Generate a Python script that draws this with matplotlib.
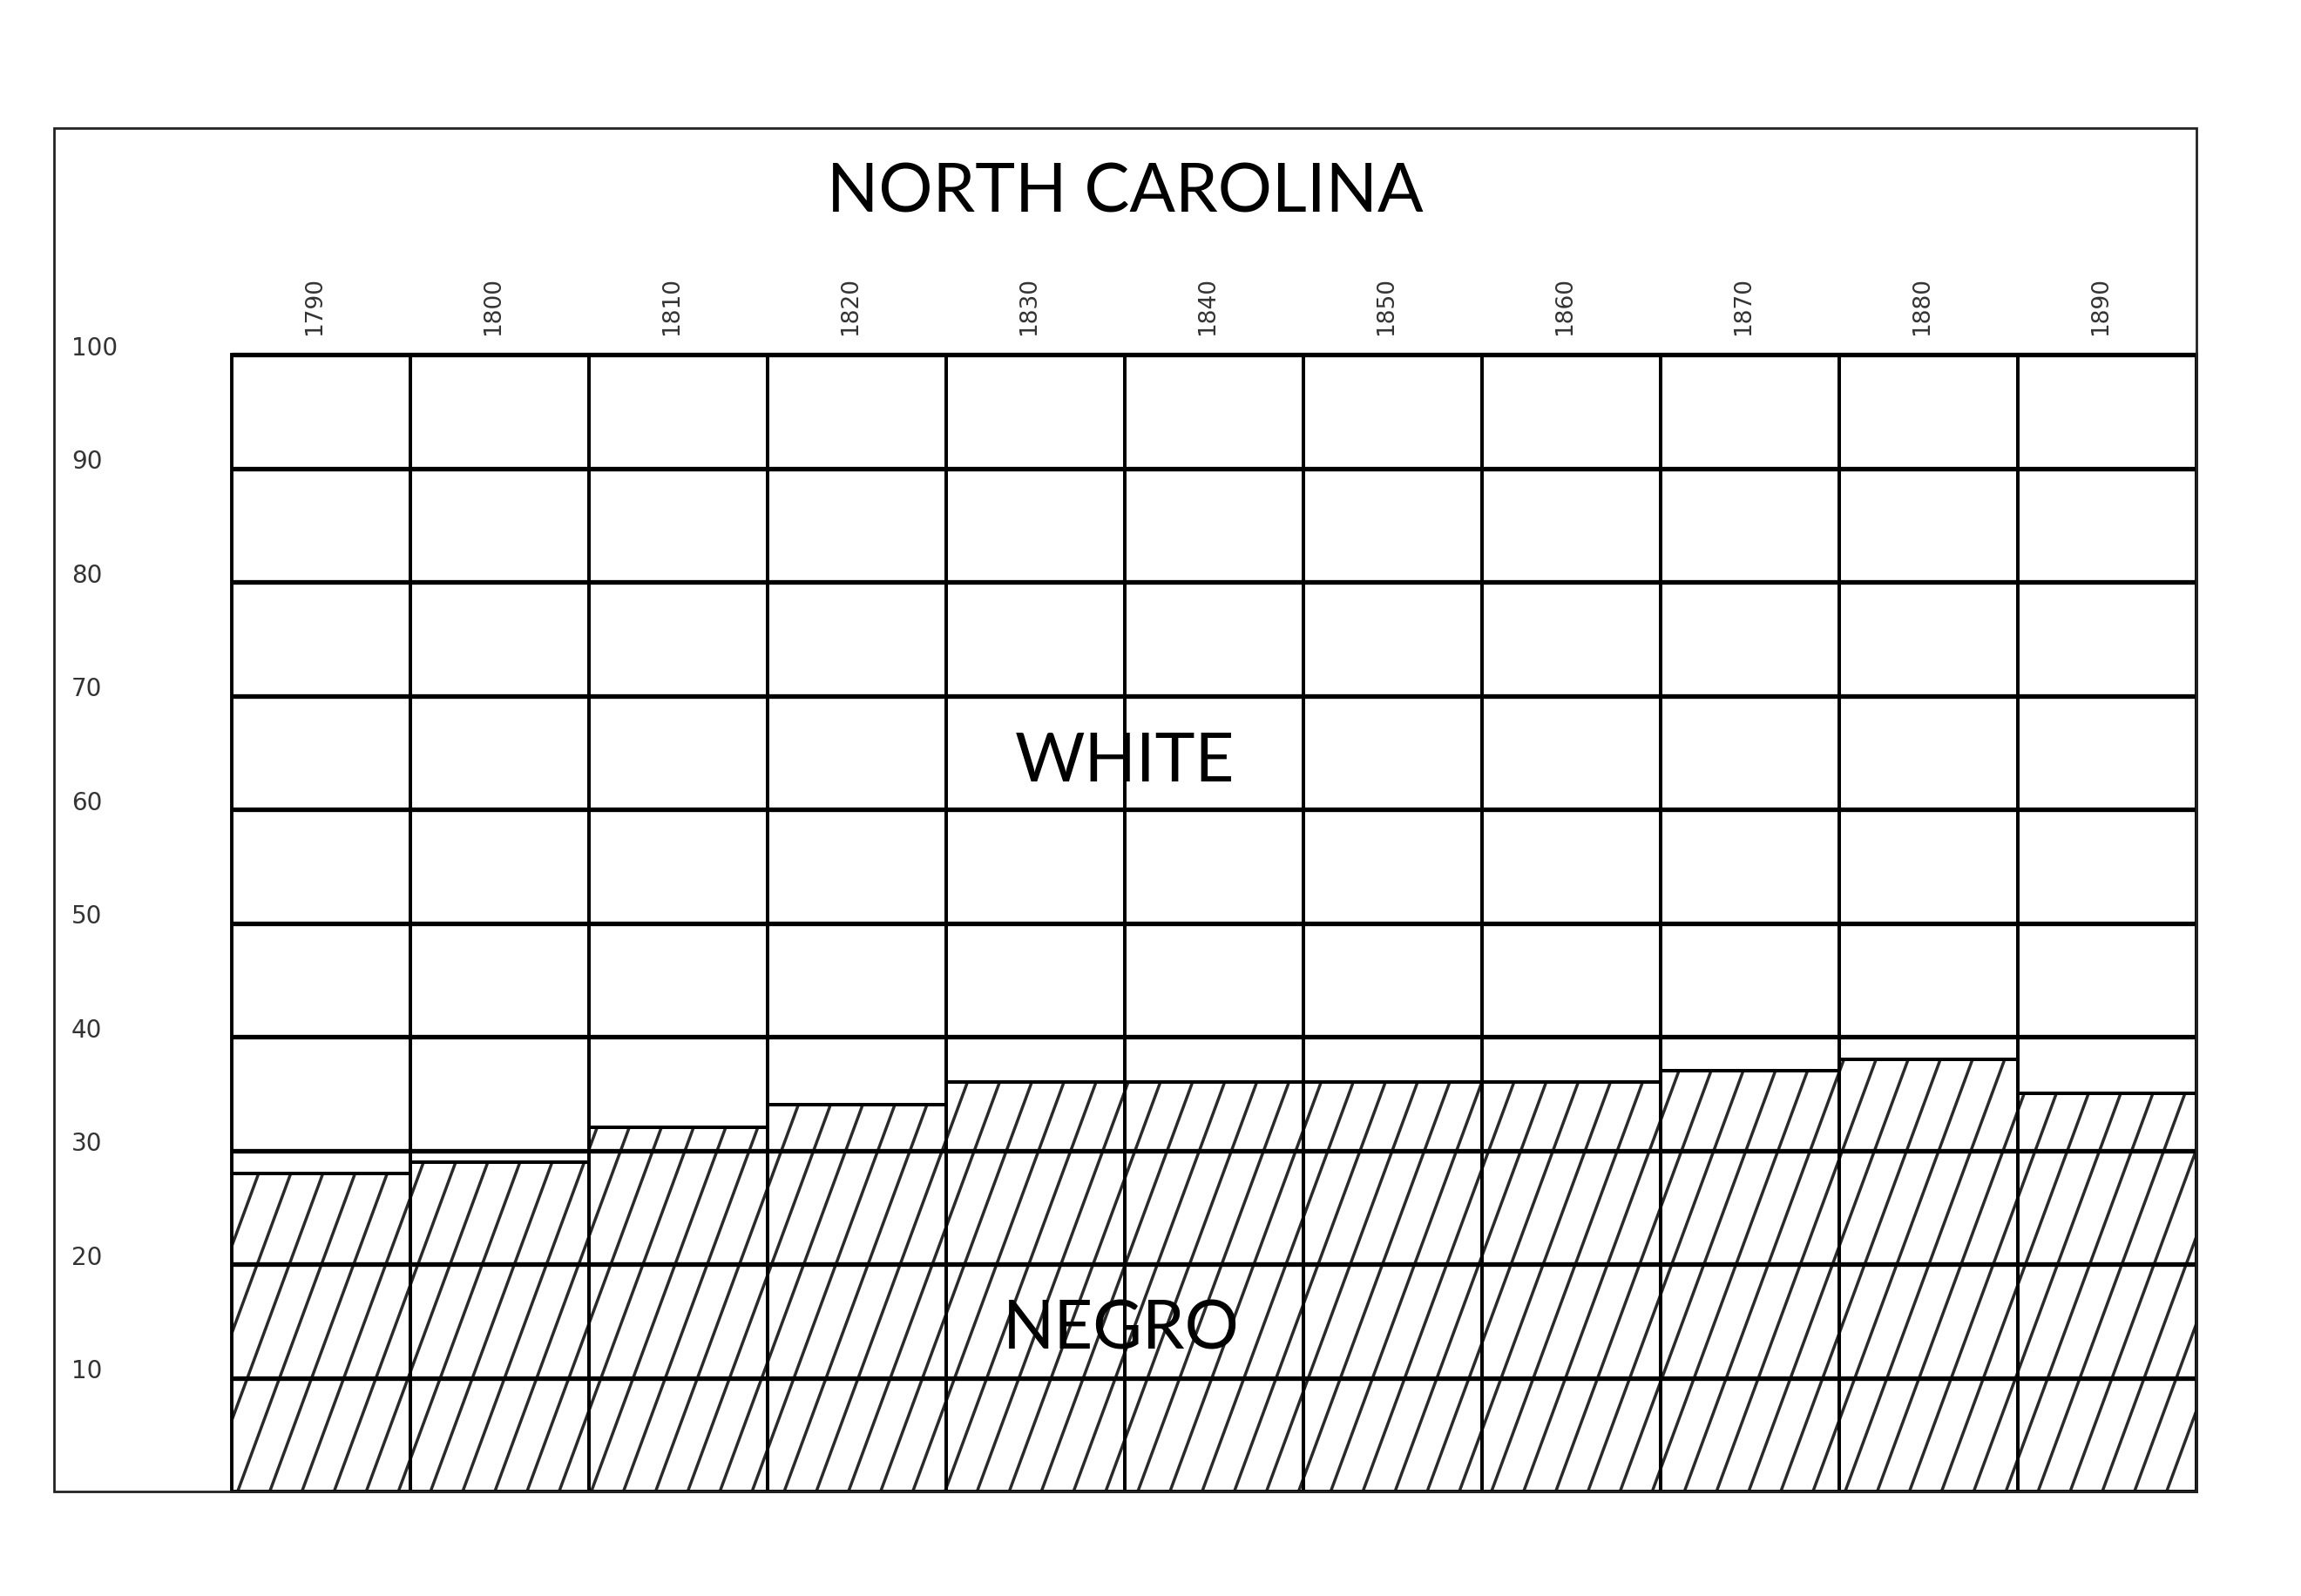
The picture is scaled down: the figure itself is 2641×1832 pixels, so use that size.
import numpy as np
import matplotlib.pyplot as plt
from matplotlib.patches import Rectangle
from matplotlib.collections import LineCollection
from matplotlib.transforms import offset_copy, blended_transform_factory

# anni del censimento e percentuale della popolazione (North Carolina)
years = ['1790', '1800', '1810', '1820', '1830', '1840', '1850', '1860', '1870', '1880', '1890']
negro_pct = [28, 29, 32, 34, 36, 36, 36, 36, 37, 38, 35]
white_pct = [100 - v for v in negro_pct]
y_ticks = [10, 20, 30, 40, 50, 60, 70, 80, 90, 100]

title = 'NORTH CAROLINA'
W, H, DPI = 2641, 1833, 200

fig = plt.figure(figsize=(W / DPI, H / DPI), dpi=DPI)
fig.patch.set_facecolor('white')
ax = fig.add_axes([266 / W, 120 / H, 2255 / W, 1305 / H])

x = np.arange(len(years))
neg_bars = ax.bar(x, negro_pct, width=1, facecolor='none', edgecolor='black',
                  linewidth=1.4, zorder=4, clip_on=False)
ax.bar(x, white_pct, bottom=negro_pct, width=1, facecolor='none', edgecolor='black',
       linewidth=1.4, zorder=4, clip_on=False)

# tratteggio inclinato dentro ogni barra
step, lean = 0.18, 0.0235
starts = np.arange(-0.467 - 14 * step, len(years), step)
segs = [[(s, 0), (s + lean * 100, 100)] for s in starts]
for bar in neg_bars:
    lc = LineCollection(segs, colors='#2a2a2a', linewidths=1.25, zorder=2)
    ax.add_collection(lc)
    lc.set_clip_path(bar)

# griglia orizzontale
ax.hlines(y_ticks, -0.5, len(years) - 0.5, colors='black', linewidth=1.9,
          zorder=3, clip_on=False)

ax.set_xlim(-0.5, len(years) - 0.5)
ax.set_ylim(0, 100)
ax.set_xticks([])
ax.set_yticks([])
for sp in ax.spines.values():
    sp.set_visible(False)

# etichette asse y
ytrans = blended_transform_factory(fig.transFigure, ax.transData)
for t in y_ticks:
    ax.text(82 / W, t, str(t), transform=ytrans, ha='left', va='baseline',
            fontsize=10, color='#333333')

# anni sopra le barre
ytr = offset_copy(ax.transData, fig=fig, x=-2.5, y=8.3, units='points')
for xi, yr in zip(x, years):
    ax.text(xi, 100, yr, transform=ytr, rotation=90, ha='center', va='bottom',
            fontsize=9.5, color='#333333')

fig.text(1291.5 / W, 1 - 244 / H, title, ha='center', va='baseline',
         fontsize=28, family='Lato')
ax.text(4.5, 62.5, 'WHITE', ha='center', va='baseline', fontsize=28, family='Lato', zorder=5)
ax.text(4.48, 12.6, 'NEGRO', ha='center', va='baseline', fontsize=28, family='Lato', zorder=5)

# cornice esterna
fig.add_artist(Rectangle((62 / W, 120 / H), (2521 - 62) / W, (1713 - 148) / H,
                         transform=fig.transFigure, fill=False,
                         edgecolor='#222222', linewidth=1.0))

fig.savefig('out.png', dpi=DPI)
